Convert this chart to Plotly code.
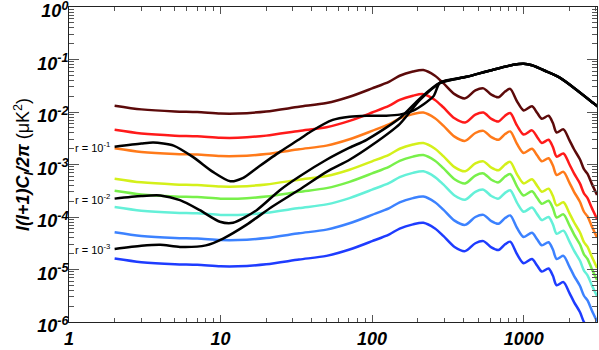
import numpy as np
import plotly.graph_objects as go

# multipoles at which the curves were read
ell = [2, 3, 5, 7, 10, 13, 20, 33, 50, 71, 100, 130, 152, 186, 218, 260, 295, 350, 411, 480,
       543, 612, 682, 754, 815, 905, 1000, 1135, 1230, 1320, 1460, 1560, 1650, 1830, 2000,
       2150, 2350, 2500, 2640, 2800, 3050]

# log10 of l(l+1)C_l/2pi for the coloured curves (top to bottom)
c_darkred = [-1.88, -1.95, -1.99, -2.00, -2.03, -2.03, -1.99, -1.90, -1.83, -1.71, -1.55, -1.42, -1.31, -1.23,
             -1.20, -1.31, -1.45, -1.66, -1.74, -1.59, -1.55, -1.67, -1.72, -1.61, -1.56, -1.80, -1.97, -1.89,
             -2.02, -2.13, -2.07, -2.21, -2.39, -2.33, -2.53, -2.71, -2.90, -3.09, -3.18, -3.35, -3.58]
c_red = [-2.34, -2.41, -2.45, -2.46, -2.49, -2.49, -2.45, -2.36, -2.29, -2.17, -2.01, -1.88, -1.77, -1.69,
         -1.66, -1.77, -1.91, -2.12, -2.20, -2.05, -2.01, -2.13, -2.18, -2.07, -2.02, -2.26, -2.43, -2.35,
         -2.48, -2.59, -2.53, -2.67, -2.85, -2.79, -2.99, -3.17, -3.36, -3.55, -3.64, -3.81, -4.04]
c_orange = [-2.69, -2.76, -2.80, -2.81, -2.84, -2.84, -2.80, -2.71, -2.64, -2.52, -2.36, -2.23, -2.12, -2.04,
            -2.01, -2.12, -2.26, -2.47, -2.55, -2.40, -2.36, -2.48, -2.53, -2.42, -2.37, -2.61, -2.78, -2.70,
            -2.83, -2.94, -2.88, -3.02, -3.20, -3.14, -3.34, -3.52, -3.71, -3.90, -3.99, -4.16, -4.39]
c_yellow = [-3.27, -3.34, -3.38, -3.39, -3.42, -3.42, -3.38, -3.29, -3.22, -3.10, -2.94, -2.81, -2.70, -2.62,
            -2.59, -2.70, -2.84, -3.05, -3.13, -2.98, -2.94, -3.06, -3.11, -3.00, -2.95, -3.19, -3.36, -3.28,
            -3.41, -3.52, -3.46, -3.60, -3.78, -3.72, -3.92, -4.10, -4.29, -4.48, -4.57, -4.74, -4.97]
c_green = [-3.50, -3.57, -3.61, -3.62, -3.65, -3.65, -3.61, -3.52, -3.45, -3.33, -3.17, -3.04, -2.93, -2.85,
           -2.82, -2.93, -3.07, -3.28, -3.36, -3.21, -3.17, -3.29, -3.34, -3.23, -3.18, -3.42, -3.59, -3.51,
           -3.64, -3.75, -3.69, -3.83, -4.01, -3.95, -4.15, -4.33, -4.52, -4.71, -4.80, -4.97, -5.20]
c_cyan = [-3.81, -3.88, -3.92, -3.93, -3.96, -3.96, -3.92, -3.83, -3.76, -3.64, -3.48, -3.35, -3.24, -3.16,
          -3.13, -3.24, -3.38, -3.59, -3.67, -3.52, -3.48, -3.60, -3.65, -3.54, -3.49, -3.73, -3.90, -3.82,
          -3.95, -4.06, -4.00, -4.14, -4.32, -4.26, -4.46, -4.64, -4.83, -5.02, -5.11, -5.28, -5.51]
c_lightblue = [-4.29, -4.36, -4.40, -4.41, -4.44, -4.44, -4.40, -4.31, -4.24, -4.12, -3.96, -3.83, -3.72, -3.64,
               -3.61, -3.72, -3.86, -4.07, -4.15, -4.00, -3.96, -4.08, -4.13, -4.02, -3.97, -4.21, -4.38, -4.30,
               -4.43, -4.54, -4.48, -4.62, -4.80, -4.74, -4.94, -5.12, -5.31, -5.50, -5.59, -5.76, -5.99]
c_blue = [-4.79, -4.86, -4.90, -4.91, -4.94, -4.94, -4.90, -4.81, -4.74, -4.62, -4.46, -4.33, -4.22, -4.14,
          -4.11, -4.22, -4.36, -4.57, -4.65, -4.50, -4.46, -4.58, -4.63, -4.52, -4.47, -4.71, -4.88, -4.80,
          -4.93, -5.04, -4.98, -5.12, -5.30, -5.24, -5.44, -5.62, -5.81, -6.00, -6.09, -6.26, -6.49]

colored = [c_darkred, c_red, c_orange, c_yellow, c_green, c_cyan, c_lightblue, c_blue]
colors = ["#5c0a0a", "#ff1a1a", "#ff7a1a", "#d4f01a", "#78f04a", "#64f0d8", "#3c82ff", "#1e3cff"]

# black curves (primordial + lensing B-modes)
ell_r1 = [2, 3, 3.6, 4.9, 6.6, 8.9, 11.6, 14, 17.3, 24.6, 33.5, 39, 55, 71, 92, 124, 152, 188, 254, 281,
          420, 600, 855, 1000, 1135, 1420, 1740, 2240, 2880, 3200]
bb_r1 = [-2.66, -2.60, -2.58, -2.64, -2.86, -3.14, -3.32, -3.26, -3.07, -2.76, -2.51, -2.38, -2.15, -2.09,
         -2.07, -2.07, -2.05, -1.97, -1.70, -1.44, -1.33, -1.21, -1.10, -1.08, -1.11, -1.23, -1.35, -1.58,
         -1.83, -1.93]
ell_r2 = [2, 3, 4, 5.4, 7.3, 9.9, 12.1, 17.3, 24.6, 33.5, 50, 71, 92, 152, 207, 281, 420, 600, 855, 1000,
          1135, 1420, 1740, 2240, 2880, 3200]
bb_r2 = [-3.65, -3.60, -3.59, -3.68, -3.87, -4.09, -4.11, -3.87, -3.49, -3.22, -2.91, -2.68, -2.53, -2.12,
         -1.74, -1.44, -1.33, -1.21, -1.10, -1.08, -1.11, -1.23, -1.35, -1.58, -1.83, -1.93]
ell_r3 = [2, 3, 4, 5.4, 8, 10.4, 14.8, 22, 33.5, 50, 71, 100, 152, 207, 281, 420, 600, 855, 1000, 1135,
          1420, 1740, 2240, 2880, 3200]
bb_r3 = [-4.61, -4.55, -4.53, -4.57, -4.54, -4.41, -4.15, -3.80, -3.47, -3.14, -2.91, -2.63, -2.23, -1.77,
         -1.45, -1.33, -1.21, -1.10, -1.08, -1.11, -1.23, -1.35, -1.58, -1.83, -1.93]

labels = ["r = 10<sup>-1</sup>", "r = 10<sup>-2</sup>", "r = 10<sup>-3</sup>"]

x_tickvals = [1, 10, 100, 1000]
x_ticktext = ["<b><i>1</i></b>", "<b><i>10</i></b>", "<b><i>100</i></b>", "<b><i>1000</i></b>"]
x_minor = [m * 10 ** d for d in range(4) for m in range(2, 10)]
y_tickvals = [1e0, 1e-1, 1e-2, 1e-3, 1e-4, 1e-5, 1e-6]
y_ticktext = ["<b><i>10<sup>%s</sup></i></b>" % s for s in ["0", "-1", "-2", "-3", "-4", "-5", "-6"]]
y_minor = [m * 10.0 ** d for d in range(-6, 0) for m in range(2, 10)]

fig = go.Figure()
for vals, col in zip(colored, colors):
    fig.add_trace(go.Scatter(x=ell, y=[10 ** v for v in vals], mode="lines",
                             line=dict(color=col, width=2.5, shape="spline", smoothing=0.8),
                             showlegend=False))
for xs, vals in [(ell_r1, bb_r1), (ell_r2, bb_r2), (ell_r3, bb_r3)]:
    fig.add_trace(go.Scatter(x=xs, y=[10 ** v for v in vals], mode="lines",
                             line=dict(color="black", width=2.5, shape="spline", smoothing=0.7),
                             showlegend=False))

for lab, vals in zip(labels, [bb_r1, bb_r2, bb_r3]):
    fig.add_annotation(x=np.log10(2), y=vals[0], text=lab, showarrow=False, xanchor="right",
                       yanchor="middle", xshift=-3, font=dict(family="Liberation Sans", size=11, color="black"))

fig.update_layout(
    width=599, height=350, margin=dict(l=69, r=2, t=7, b=28),
    paper_bgcolor="white", plot_bgcolor="white",
    font=dict(family="Liberation Sans", color="black"),
)
fig.update_xaxes(type="log", range=[0, 3.484], showgrid=False, zeroline=False, automargin=False,
                 showline=True, linecolor="#222", linewidth=1, mirror="allticks",
                 ticks="inside", ticklen=7, tickcolor="#555",
                 tickvals=x_tickvals, ticktext=x_ticktext, tickfont=dict(size=18),
                 ticklabeloverflow="allow",
                 minor=dict(tickmode="array", tickvals=x_minor, ticks="inside", ticklen=4,
                            tickcolor="#555", showgrid=False))
fig.update_yaxes(type="log", range=[-6, 0], showgrid=False, zeroline=False, automargin=False,
                 showline=True, linecolor="#222", linewidth=1, mirror="allticks",
                 ticks="inside", ticklen=10, tickcolor="#555",
                 tickvals=y_tickvals, ticktext=y_ticktext, tickfont=dict(size=18),
                 ticklabeloverflow="allow", ticklabelshift=4, ticklabelstandoff=-4,
                 minor=dict(tickmode="array", tickvals=y_minor, ticks="inside", ticklen=5,
                            tickcolor="#555", showgrid=False),
                 title=dict(text="<b><i>l(l+1)C<sub>l</sub>/2π</i></b> (μK<sup>2</sup>)",
                            font=dict(size=18), standoff=2))

# the page's default body margin would shift the figure, so drop it
fig.write_html("out.html", config={"displayModeBar": False},
               post_script="document.body.style.margin='0';")
